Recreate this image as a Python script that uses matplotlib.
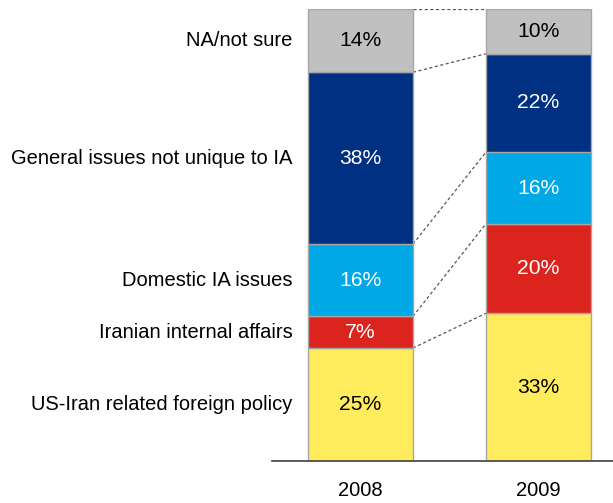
import numpy as np
import matplotlib.pyplot as plt

plt.rcParams["font.family"] = ["Liberation Sans", "DejaVu Sans"]

years = ["2008", "2009"]
categories = [
    "US-Iran related foreign policy",
    "Iranian internal affairs",
    "Domestic IA issues",
    "General issues not unique to IA",
    "NA/not sure",
]
# bottom to top
values_2008 = [25, 7, 16, 38, 14]
values_2009 = [33, 20, 16, 22, 10]
colors = ["#ffec5c", "#dc241f", "#00a8e6", "#003082", "#c0c0c0"]
text_colors = ["black", "white", "white", "white", "black"]

series = np.array([values_2008, values_2009], dtype=float)
shares = series / series.sum(axis=1, keepdims=True) * 100

fig = plt.figure(figsize=(6.13, 5.03), dpi=100)
ax = fig.add_axes([272 / 613, 42 / 503, 341 / 613, 452 / 503])

FS = 14.5
xpos = np.arange(len(years))
width = 0.59
bottoms = np.zeros(len(years))
tops = []
for i, cat in enumerate(categories):
    h = shares[:, i]
    ax.bar(xpos, h, width, bottom=bottoms, color=colors[i],
           edgecolor="#a6a6a6", linewidth=1.0, zorder=2)
    for j in range(len(years)):
        ax.text(xpos[j], bottoms[j] + h[j] / 2, f"{int(series[j, i])}%",
                ha="center", va="center", fontsize=15.2, color=text_colors[i],
                zorder=3)
    # category label next to the 2008 bar
    ax.text(-0.38, bottoms[0] + h[0] / 2, cat, ha="right", va="center",
            fontsize=FS, color="black")
    bottoms = bottoms + h
    tops.append(bottoms.copy())

# dashed connectors between segment tops
for t in tops:
    ax.plot([xpos[0] + width / 2, xpos[1] - width / 2], [t[0], t[1]],
            linestyle=(0, (2.5, 2)), color="#555555", linewidth=0.9, zorder=1)

ax.set_xlim(-0.497, 1.419)
ax.set_ylim(0, 100)
ax.set_yticks([])
ax.set_xticks([])
for side in ["top", "right", "left"]:
    ax.spines[side].set_visible(False)
ax.spines["bottom"].set_color("#404040")
ax.spines["bottom"].set_linewidth(1.2)

for j, yr in enumerate(years):
    ax.text(xpos[j], -6.6, yr, ha="center", va="center", fontsize=FS,
            color="black")

fig.savefig("out.png", dpi=100)
